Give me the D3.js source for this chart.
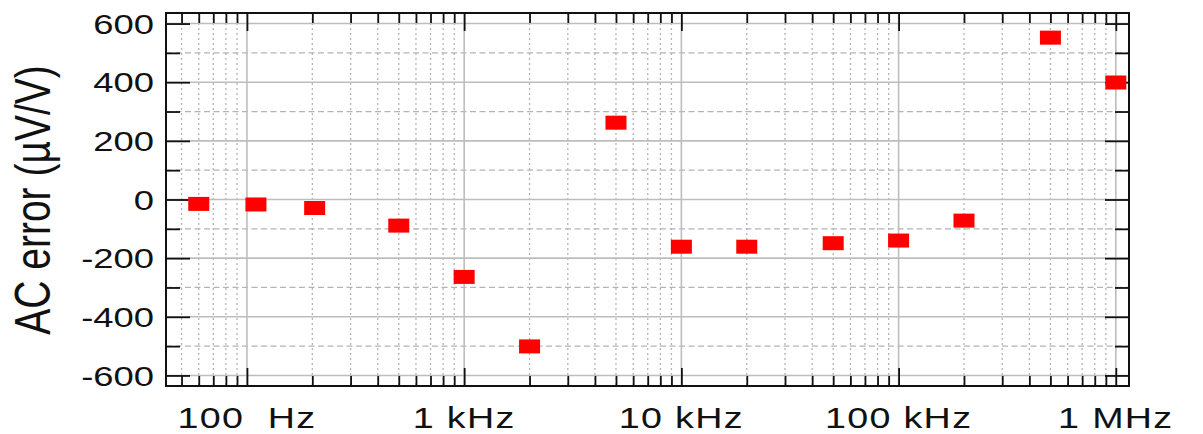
<!DOCTYPE html>
<html>
<head>
<meta charset="utf-8">
<script src="https://cdn.jsdelivr.net/npm/d3@7/dist/d3.min.js"></script>
<style>
  html, body { margin: 0; padding: 0; background: #fff; }
  svg { display: block; }
  text { font-family: "Liberation Sans", Arial, sans-serif; fill: #111; }
</style>
</head>
<body>
<div id="chart"></div>
<script>
// measured points (frequency in Hz, AC error in uV/V)
var freqs = [60, 110, 205, 500, 1000, 2000, 5000, 10000, 20000, 50000, 100000, 200000, 500000, 1000000];
var errors = [-15, -17, -29, -89, -264, -501, 262, -161, -161, -149, -140, -72, 552, 399];

var xTickValues = [100, 1000, 10000, 100000, 1000000];
var xTickLabels = ["100\u00a0\u00a0Hz", "1 kHz", "10 kHz", "100 kHz", "1 MHz"];
var yTickValues = [-600, -400, -200, 0, 200, 400, 600];
var yMinorValues = [-500, -300, -100, 100, 300, 500];
var yTitle = "AC error (\u00b5V/V)";

var width = 1203, height = 434;
var plot = {left: 166, right: 1129, top: 13, bottom: 386};
var stretch = 1.3; // the original is widened horizontally

var x = d3.scaleLog().domain([42.4, 1.15e6]).range([plot.left, plot.right]);
var y = d3.scaleLinear().domain([-636, 636]).range([plot.bottom, plot.top]);

// minor decade positions 50 Hz .. 900 kHz
var xMinor = [];
[10, 100, 1000, 10000, 100000].forEach(function(d) {
  for (var k = 2; k <= 9; k++) {
    var v = k * d;
    if (v >= 50 && v < 1000000) xMinor.push(v);
  }
});

var svg = d3.select('#chart').append('svg')
    .attr('width', width)
    .attr('height', height);

// grid
var grid = svg.append('g').attr('class', 'grid');
grid.selectAll('.vminor').data(xMinor).enter().append('line')
    .attr('x1', d => x(d)).attr('x2', d => x(d))
    .attr('y1', plot.top).attr('y2', plot.bottom)
    .attr('stroke', '#b4b4b4').attr('stroke-width', 1.3)
    .attr('stroke-dasharray', '2,3');
grid.selectAll('.hminor').data(yMinorValues).enter().append('line')
    .attr('x1', plot.left).attr('x2', plot.right)
    .attr('y1', d => y(d)).attr('y2', d => y(d))
    .attr('stroke', '#b4b4b4').attr('stroke-width', 1.3)
    .attr('stroke-dasharray', '6,3.5');
grid.selectAll('.vmajor').data(xTickValues).enter().append('line')
    .attr('x1', d => x(d)).attr('x2', d => x(d))
    .attr('y1', plot.top).attr('y2', plot.bottom)
    .attr('stroke', '#bdbdbd').attr('stroke-width', 1.6);
grid.selectAll('.hmajor').data(yTickValues).enter().append('line')
    .attr('x1', plot.left).attr('x2', plot.right)
    .attr('y1', d => y(d)).attr('y2', d => y(d))
    .attr('stroke', '#bdbdbd').attr('stroke-width', 1.6);

// inward ticks on all four sides
function addAxis(axis, tx, ty) {
  var g = svg.append('g')
      .attr('transform', 'translate(' + tx + ',' + ty + ')')
      .call(axis);
  g.select('.domain').remove();
  g.selectAll('text').remove();
  g.selectAll('line').attr('stroke', '#111').attr('stroke-width', 1.8);
}
addAxis(d3.axisLeft(y).tickValues(yTickValues).tickSize(-24), plot.left, 0);
addAxis(d3.axisLeft(y).tickValues(yMinorValues).tickSize(-14), plot.left, 0);
addAxis(d3.axisRight(y).tickValues(yTickValues).tickSize(-24), plot.right, 0);
addAxis(d3.axisRight(y).tickValues(yMinorValues).tickSize(-14), plot.right, 0);
addAxis(d3.axisBottom(x).tickValues(xTickValues).tickSize(-18), 0, plot.bottom);
addAxis(d3.axisBottom(x).tickValues(xMinor).tickSize(-10), 0, plot.bottom);
addAxis(d3.axisTop(x).tickValues(xTickValues).tickSize(-18), 0, plot.top);
addAxis(d3.axisTop(x).tickValues(xMinor).tickSize(-10), 0, plot.top);

// frame
svg.append('rect')
    .attr('x', plot.left).attr('y', plot.top)
    .attr('width', plot.right - plot.left)
    .attr('height', plot.bottom - plot.top)
    .attr('fill', 'none').attr('stroke', '#111').attr('stroke-width', 2);

// tick labels
svg.append('g').selectAll('text').data(yTickValues).enter().append('text')
    .attr('transform', d => 'translate(154,' + y(d) + ') scale(' + stretch + ',1)')
    .attr('text-anchor', 'end')
    .attr('dy', '0.36em')
    .style('font-size', '28px')
    .text(d => String(d));

svg.append('g').selectAll('text').data(xTickValues).enter().append('text')
    .attr('transform', d => 'translate(' + x(d) + ',428) scale(' + stretch + ',1)')
    .attr('text-anchor', 'middle')
    .style('font-size', '29px')
    .style('letter-spacing', '1px')
    .text((d, i) => xTickLabels[i]);

// axis title
svg.append('text')
    .attr('transform', 'translate(50,200) scale(' + stretch + ',1) rotate(-90)')
    .attr('text-anchor', 'middle')
    .style('font-size', '39px')
    .text(yTitle);

// markers
var mw = 21, mh = 14;
svg.append('g').selectAll('rect').data(freqs).enter().append('rect')
    .attr('x', d => x(d) - mw / 2)
    .attr('y', (d, i) => y(errors[i]) - mh / 2)
    .attr('width', mw).attr('height', mh)
    .attr('fill', '#ff0000');
</script>
</body>
</html>
